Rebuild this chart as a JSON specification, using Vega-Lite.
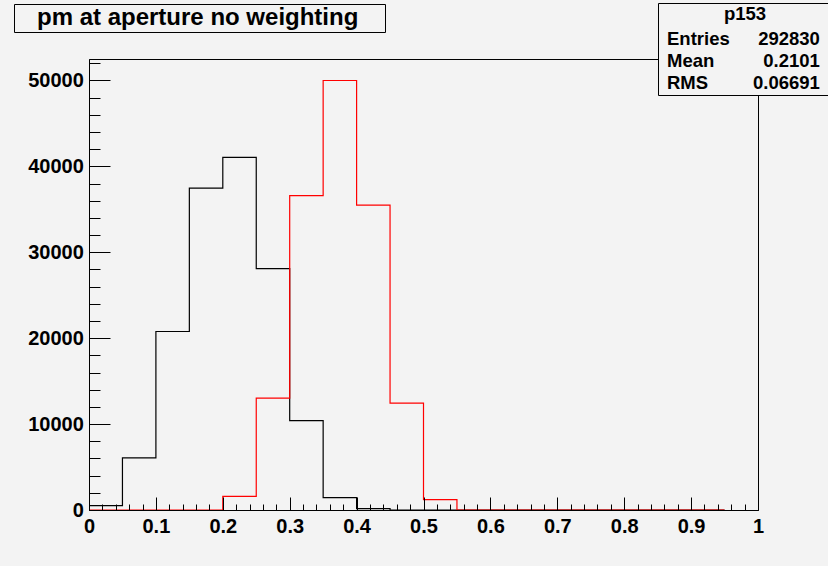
{
  "$schema": "https://vega.github.io/schema/vega-lite/v6.json",
  "width": 669,
  "height": 451,
  "autosize": "none",
  "padding": {"left": 89, "top": 59, "right": 70, "bottom": 56},
  "background": "#f3f3f3",
  "config": {
    "view": {"stroke": "#000000", "strokeWidth": 1, "fill": "#f3f3f3"},
    "font": "Liberation Sans"
  },
  "layer": [
    {
      "data": {
        "values": [
          {"series": "h1", "x": 0.0, "count": 500},
          {"series": "h1", "x": 0.05, "count": 6070},
          {"series": "h1", "x": 0.1, "count": 20780},
          {"series": "h1", "x": 0.15, "count": 37460},
          {"series": "h1", "x": 0.2, "count": 41060},
          {"series": "h1", "x": 0.25, "count": 28090},
          {"series": "h1", "x": 0.3, "count": 10400},
          {"series": "h1", "x": 0.35, "count": 1430},
          {"series": "h1", "x": 0.4, "count": 150},
          {"series": "h1", "x": 0.45, "count": 0},
          {"series": "h1", "x": 0.5, "count": 0},
          {"series": "h1", "x": 0.55, "count": 0},
          {"series": "h1", "x": 0.6, "count": 0},
          {"series": "h1", "x": 0.65, "count": 0},
          {"series": "h1", "x": 0.7, "count": 0},
          {"series": "h1", "x": 0.75, "count": 0},
          {"series": "h1", "x": 0.8, "count": 0},
          {"series": "h1", "x": 0.85, "count": 0},
          {"series": "h1", "x": 0.9, "count": 0},
          {"series": "h1", "x": 0.95, "count": 0},
          {"series": "h2", "x": 0.0, "count": 0},
          {"series": "h2", "x": 0.05, "count": 0},
          {"series": "h2", "x": 0.1, "count": 0},
          {"series": "h2", "x": 0.15, "count": 0},
          {"series": "h2", "x": 0.2, "count": 1590},
          {"series": "h2", "x": 0.25, "count": 13030},
          {"series": "h2", "x": 0.3, "count": 36600},
          {"series": "h2", "x": 0.35, "count": 50000},
          {"series": "h2", "x": 0.4, "count": 35490},
          {"series": "h2", "x": 0.45, "count": 12450},
          {"series": "h2", "x": 0.5, "count": 1200},
          {"series": "h2", "x": 0.55, "count": 0},
          {"series": "h2", "x": 0.6, "count": 0},
          {"series": "h2", "x": 0.65, "count": 0},
          {"series": "h2", "x": 0.7, "count": 0},
          {"series": "h2", "x": 0.75, "count": 0},
          {"series": "h2", "x": 0.8, "count": 0},
          {"series": "h2", "x": 0.85, "count": 0},
          {"series": "h2", "x": 0.9, "count": 0},
          {"series": "h2", "x": 0.95, "count": 0}
        ]
      },
      "mark": {"type": "line", "interpolate": "step-after", "strokeWidth": 1.2},
      "encoding": {
        "x": {
          "field": "x",
          "type": "quantitative",
          "scale": {"domain": [0, 1], "nice": false, "zero": false},
          "axis": {
            "values": [0, 0.02, 0.04, 0.06, 0.08, 0.1, 0.12, 0.14, 0.16, 0.18, 0.2, 0.22, 0.24, 0.26, 0.28, 0.3, 0.32, 0.34, 0.36, 0.38, 0.4, 0.42, 0.44, 0.46, 0.48, 0.5, 0.52, 0.54, 0.56, 0.58, 0.6, 0.62, 0.64, 0.66, 0.68, 0.7, 0.72, 0.74, 0.76, 0.78, 0.8, 0.82, 0.84, 0.86, 0.88, 0.9, 0.92, 0.94, 0.96, 0.98, 1],
            "labelExpr": "abs(datum.value*10 - round(datum.value*10)) < 1e-6 ? format(datum.value, '~g') : ''",
            "tickSize": {"condition": {"test": "abs(datum.value*10 - round(datum.value*10)) < 1e-6", "value": -13}, "value": -6},
            "labelPadding": 19.5,
            "labelFont": "Liberation Sans",
            "labelFontWeight": "bold",
            "labelFontSize": 20,
            "labelColor": "#000000",
            "labelFlush": false,
            "labelOverlap": false,
            "domainColor": "#000000",
            "domainWidth": 1,
            "tickColor": "#000000",
            "tickWidth": 1,
            "grid": false,
            "title": null,
            "zindex": 1
          }
        },
        "y": {
          "field": "count",
          "type": "quantitative",
          "scale": {"domain": [0, 52500], "nice": false, "zero": true},
          "axis": {
            "values": [0, 2000, 4000, 6000, 8000, 10000, 12000, 14000, 16000, 18000, 20000, 22000, 24000, 26000, 28000, 30000, 32000, 34000, 36000, 38000, 40000, 42000, 44000, 46000, 48000, 50000, 52000],
            "labelExpr": "datum.value % 10000 == 0 ? format(datum.value, 'd') : ''",
            "tickSize": {"condition": {"test": "datum.value % 10000 == 0", "value": -21}, "value": -11},
            "labelPadding": 26.7,
            "labelFont": "Liberation Sans",
            "labelFontWeight": "bold",
            "labelFontSize": 20,
            "labelColor": "#000000",
            "labelFlush": false,
            "labelOverlap": false,
            "domainColor": "#000000",
            "domainWidth": 1,
            "tickColor": "#000000",
            "tickWidth": 1,
            "grid": false,
            "title": null,
            "zindex": 1
          }
        },
        "stroke": {
          "field": "series",
          "type": "nominal",
          "scale": {"domain": ["h1", "h2"], "range": ["#000000", "#ff0000"]},
          "legend": null
        }
      }
    },
    {
      "data": {"values": [{"name": "pm at aperture no weighting"}]},
      "mark": {"type": "point", "opacity": 0},
      "encoding": {
        "fill": {
          "field": "name",
          "type": "nominal",
          "legend": {
            "orient": "none",
            "legendX": -75,
            "legendY": -55,
            "title": null,
            "padding": 2,
            "symbolSize": 0,
            "symbolOpacity": 0,
            "symbolStrokeWidth": 0,
            "labelOffset": -3,
            "labelLimit": 600,
            "labelExpr": "datum.label + '\u2003\u200b'",
            "labelFont": "Liberation Sans",
            "labelFontWeight": "bold",
            "labelFontSize": 24,
            "labelColor": "#000000",
            "strokeColor": "#000000",
            "fillColor": "#f3f3f3"
          }
        }
      }
    },
    {
      "data": {
        "values": [
          {"stat": "Entries", "value": "292830"},
          {"stat": "Mean", "value": "0.2101"},
          {"stat": "RMS", "value": "0.06691"}
        ]
      },
      "transform": [{"fold": ["stat", "value"], "as": ["key", "cell"]}],
      "mark": {"type": "point", "opacity": 0},
      "encoding": {
        "shape": {
          "field": "cell",
          "type": "nominal",
          "sort": ["Entries", "Mean", "RMS", "292830", "0.2101", "0.06691"],
          "legend": {
            "orient": "none",
            "legendX": 569,
            "legendY": -56,
            "title": "p153",
            "titleFont": "Liberation Sans",
            "titleFontWeight": "bold",
            "titleFontSize": 18.5,
            "titleColor": "#000000",
            "titleAnchor": "middle",
            "titlePadding": 6,
            "columns": 2,
            "columnPadding": 16,
            "rowPadding": 3,
            "padding": 2,
            "symbolSize": 0,
            "symbolOpacity": 0,
            "symbolStrokeWidth": 0,
            "labelOffset": -11.5,
            "labelLimit": 300,
            "labelExpr": "(datum.label == '292830' ? '\u200b\u00a0' : datum.label == '0.2101' ? '\u200b\u00a0\u00a0' : '') + datum.label + (datum.label == 'Entries' || datum.label == 'Mean' || datum.label == 'RMS' ? '' : '\u2002\u200b')",
            "labelFont": "Liberation Sans",
            "labelFontWeight": "bold",
            "labelFontSize": 18.5,
            "labelColor": "#000000",
            "strokeColor": "#000000",
            "fillColor": "#f3f3f3"
          }
        }
      }
    }
  ]
}
